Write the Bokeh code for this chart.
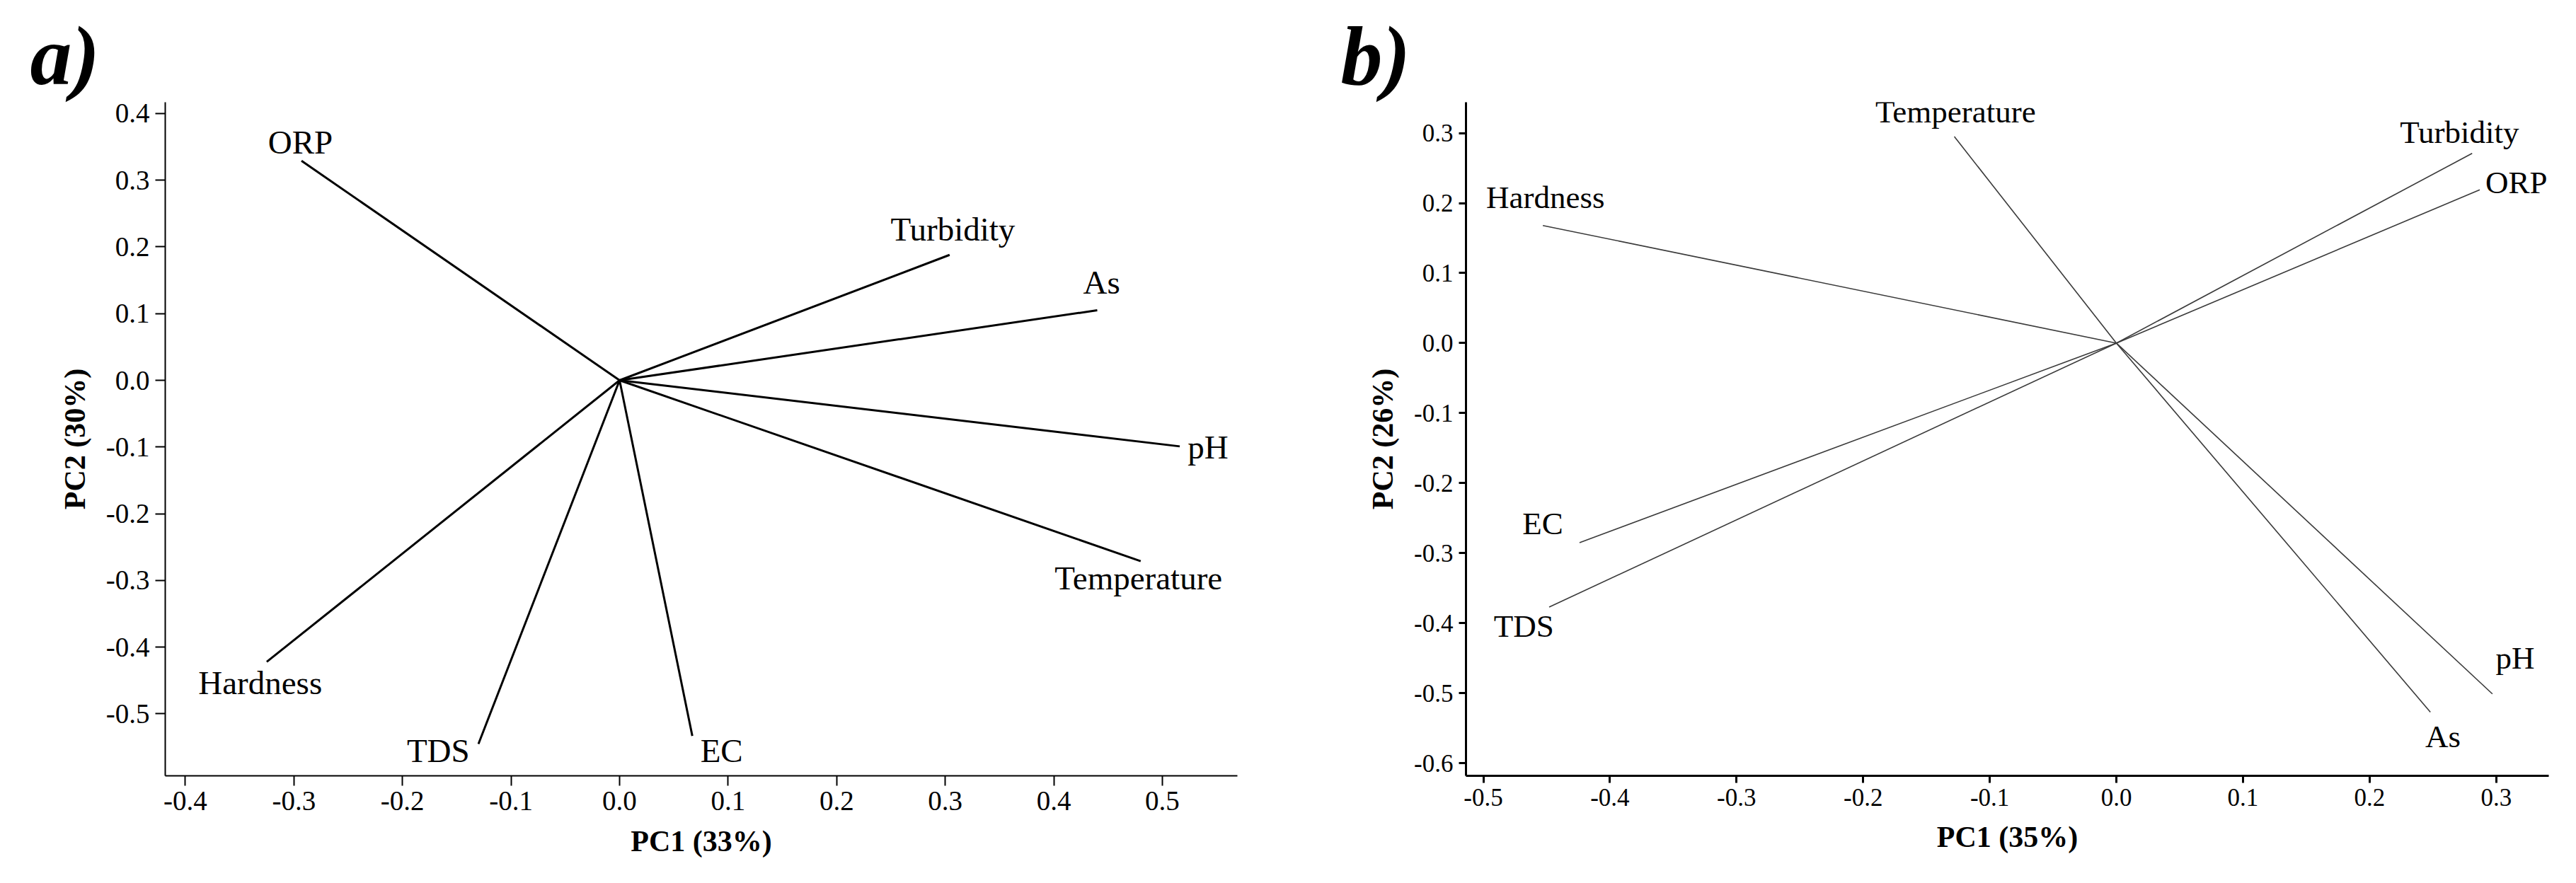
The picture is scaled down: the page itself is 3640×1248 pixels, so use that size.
from bokeh.plotting import figure
from bokeh.models import FixedTicker, PrintfTickFormatter, Range1d, ColumnDataSource
from bokeh.layouts import row
from bokeh.core.properties import value
from bokeh.embed import file_html
from bokeh.resources import INLINE

# ---------------- data: panel a ----------------
a_vars = ["ORP", "Turbidity", "As", "pH", "Temperature", "Hardness", "TDS", "EC"]
a_pc1 = [-0.293, 0.304, 0.440, 0.516, 0.480, -0.325, -0.130, 0.067]
a_pc2 = [0.329, 0.188, 0.105, -0.099, -0.271, -0.422, -0.545, -0.533]
a_lab_x = [-0.294, 0.307, 0.444, 0.542, 0.478, -0.331, -0.167, 0.094]
a_lab_y = [0.357, 0.226, 0.147, -0.100, -0.296, -0.453, -0.555, -0.555]
a_xticks = [-0.4, -0.3, -0.2, -0.1, 0.0, 0.1, 0.2, 0.3, 0.4, 0.5]
a_yticks = [-0.5, -0.4, -0.3, -0.2, -0.1, 0.0, 0.1, 0.2, 0.3, 0.4]

# ---------------- data: panel b ----------------
b_vars = ["Temperature", "Turbidity", "ORP", "Hardness", "EC", "TDS", "pH", "As"]
b_pc1 = [-0.128, 0.281, 0.287, -0.453, -0.424, -0.448, 0.297, 0.248]
b_pc2 = [0.295, 0.271, 0.219, 0.168, -0.285, -0.377, -0.501, -0.527]
b_lab_x = [-0.127, 0.271, 0.316, -0.451, -0.453, -0.468, 0.315, 0.258]
b_lab_y = [0.330, 0.301, 0.229, 0.208, -0.258, -0.404, -0.450, -0.562]
b_xticks = [-0.5, -0.4, -0.3, -0.2, -0.1, 0.0, 0.1, 0.2, 0.3]
b_yticks = [-0.6, -0.5, -0.4, -0.3, -0.2, -0.1, 0.0, 0.1, 0.2, 0.3]

FONT = "Liberation Serif"


def make_panel(tag, tag_offset, names, pc1, pc2, lx, ly, xt, yt, xr, yr,
               xlabel, ylabel, borders, line_color, line_w, axis_w,
               tick_len, tick_font, lab_font):
    left, right, top, bottom = borders
    p = figure(width=1812, height=1232, output_backend="svg", toolbar_location=None,
               x_range=Range1d(*xr), y_range=Range1d(*yr),
               min_border_left=left, min_border_right=right,
               min_border_top=top, min_border_bottom=bottom)
    p.outline_line_color = None
    p.xgrid.visible = False
    p.ygrid.visible = False
    p.background_fill_color = "white"
    p.border_fill_color = "white"

    # panel tag as the plot title, pushed left of the frame
    p.title.text = tag
    p.title.align = "left"
    p.title.offset = tag_offset
    p.title.standoff = 0
    p.title.text_font = FONT
    p.title.text_font_style = "bold italic"
    p.title.text_font_size = "118px"
    p.title.text_color = "black"

    src = ColumnDataSource(dict(x0=[0.0] * len(pc1), y0=[0.0] * len(pc1),
                                x1=pc1, y1=pc2, lx=lx, ly=ly, name=names))
    p.segment(x0="x0", y0="y0", x1="x1", y1="y1", source=src,
              line_color=line_color, line_width=line_w)
    p.text(x="lx", y="ly", text="name", source=src,
           text_font=value(FONT), text_font_size=value(lab_font),
           text_align="center", text_baseline="middle", text_color="black")

    for ax, ticks, lab in ((p.xaxis[0], xt, xlabel), (p.yaxis[0], yt, ylabel)):
        ax.ticker = FixedTicker(ticks=ticks)
        ax.formatter = PrintfTickFormatter(format="%.1f")
        ax.axis_label = lab
        ax.axis_label_text_font = FONT
        ax.axis_label_text_font_style = "bold"
        ax.axis_label_text_font_size = "42px"
        ax.axis_label_text_color = "black"
        ax.major_label_text_font = FONT
        ax.major_label_text_font_size = tick_font
        ax.major_label_text_color = "black"
        ax.axis_line_color = "black"
        ax.axis_line_width = axis_w
        ax.major_tick_line_color = "black"
        ax.major_tick_line_width = axis_w
        ax.major_tick_out = tick_len
        ax.major_tick_in = 0
        ax.minor_tick_line_color = None
        ax.major_label_standoff = 8
        ax.axis_label_standoff = 18
    return p


pa = make_panel("a)", -191, a_vars, a_pc1, a_pc2, a_lab_x, a_lab_y,
                a_xticks, a_yticks, (-0.4185, 0.5691), (-0.5928, 0.4168),
                "PC1 (33%)", "PC2 (30%)", (233, 64, 144, 136),
                "black", 3, 2, 14, "39px", "47px")

pb = make_panel("b)", -177, b_vars, b_pc1, b_pc2, b_lab_x, b_lab_y,
                b_xticks, b_yticks, (-0.5137, 0.3415), (-0.618, 0.344),
                "PC1 (35%)", "PC2 (26%)", (259, 23, 138, 124),
                "#3a3a3a", 1.6, 3, 10, "35px", "45px")

layout = row(pa, pb)
open("out.html", "w").write(file_html(layout, INLINE))
